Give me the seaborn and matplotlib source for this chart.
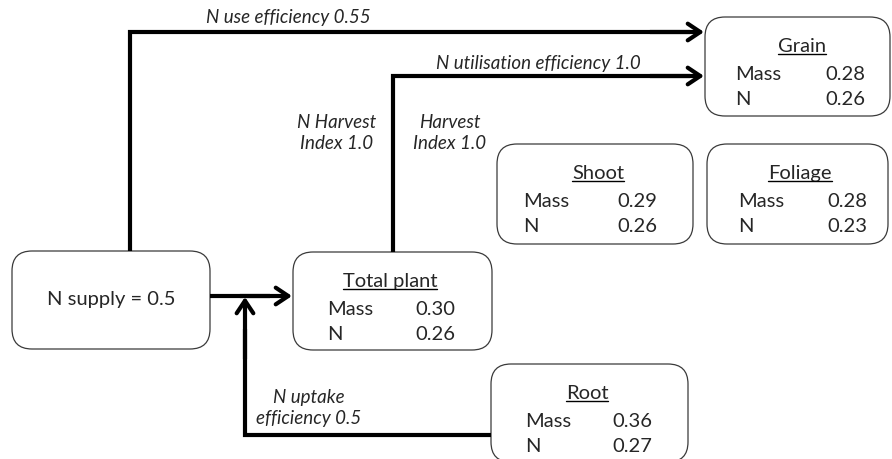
import matplotlib
matplotlib.use("Agg")
import matplotlib.pyplot as plt
import seaborn as sns
from matplotlib.patches import FancyBboxPatch

# -----------------------------
# Data
# -----------------------------
compartments = ["Grain", "Shoot", "Foliage", "Total plant", "Root"]
mass_values = [0.28, 0.29, 0.28, 0.30, 0.36]
n_values = [0.26, 0.26, 0.23, 0.26, 0.27]
row_labels = ["Mass", "N"]

n_supply = 0.5
n_use_eff = 0.55
n_util_eff = 1.0
n_harvest_index = 1.0
harvest_index = 1.0
n_uptake_eff = 0.5

# -----------------------------
# Layout (pixel space, y down)
# left, top, right, bottom, title_x, label_x, value_x
# -----------------------------
box_layout = {
    "Grain": (705, 18, 890, 117, 802, 735, 865),
    "Shoot": (497, 145, 693, 245, 598, 523, 657),
    "Foliage": (707, 145, 888, 245, 800, 738, 867),
    "Total plant": (293, 253, 492, 351, 390, 327, 455),
    "Root": (491, 365, 688, 463, 587, 525, 652),
}
supply_box = (12, 252, 210, 350)

W, H = 892, 460
sns.set_theme(style="white")
plt.rcParams["font.family"] = ["Lato", "DejaVu Sans"]

fig = plt.figure(figsize=(W / 100, H / 100), dpi=100)
ax = fig.add_axes([0, 0, 1, 1])
ax.set_xlim(0, W)
ax.set_ylim(H, 0)
ax.axis("off")

BOX_FS = 14.5
LAB_FS = 13.5
LW = 3.0
EDGE = "#3a3a3a"


def rounded_box(l, t, r, b):
    ax.add_patch(FancyBboxPatch((l, t), r - l, b - t,
                                boxstyle="round,pad=0,rounding_size=20",
                                fc="white", ec=EDGE, lw=0.9, zorder=2))


def arrow(x0, y0, x1, y1):
    ax.annotate("", xy=(x1, y1), xytext=(x0, y0),
                arrowprops=dict(arrowstyle="->,head_length=0.45,head_width=0.3",
                                lw=LW, color="black", mutation_scale=20,
                                shrinkA=0, shrinkB=0), zorder=3)


def path(xs, ys):
    ax.plot(xs, ys, color="black", lw=LW, solid_joinstyle="miter",
            solid_capstyle="butt", zorder=3)


# -----------------------------
# Flows
# -----------------------------
path([130, 130, 690], [252, 33, 33])
arrow(650, 33, 704, 33)
path([393, 393, 690], [253, 77, 77])
arrow(650, 77, 704, 77)
path([210, 270], [297, 297])
arrow(240, 297, 292, 297)
path([491, 245, 245], [436, 436, 330])
arrow(245, 360, 245, 298)

# -----------------------------
# Boxes
# -----------------------------
rounded_box(*supply_box)
ax.text((supply_box[0] + supply_box[2]) / 2, 300, f"N supply = {n_supply}",
        ha="center", va="center", fontsize=BOX_FS, zorder=4)

titles = []
for name, m, n in zip(compartments, mass_values, n_values):
    l, t, r, b, tx, lx, vx = box_layout[name]
    rounded_box(l, t, r, b)
    titles.append(ax.text(tx, t + 34, name, ha="center", va="baseline",
                          fontsize=BOX_FS, zorder=4))
    for i, (lab, val) in enumerate(zip(row_labels, [m, n])):
        yy = t + 62 + 25 * i
        ax.text(lx, yy, lab, ha="left", va="baseline", fontsize=BOX_FS, zorder=4)
        ax.text(vx, yy, f"{val:.2f}", ha="right", va="baseline",
                fontsize=BOX_FS, zorder=4)

# underline titles
fig.canvas.draw()
inv = ax.transData.inverted()
for txt in titles:
    bb = txt.get_window_extent()
    x0, _ = inv.transform((bb.x0, bb.y0))
    x1, _ = inv.transform((bb.x1, bb.y0))
    yb = txt.get_position()[1] + 3
    ax.plot([x0, x1], [yb, yb], color="black", lw=1.0, zorder=4)

# -----------------------------
# Flow labels
# -----------------------------
ax.text(288, 17, f"N use efficiency {n_use_eff}", ha="center", va="center",
        fontsize=LAB_FS, style="italic")
ax.text(538, 64, f"N utilisation efficiency {n_util_eff}", ha="center",
        va="center", fontsize=LAB_FS, style="italic")
ax.text(337, 133, f"N Harvest\nIndex {n_harvest_index}", ha="center",
        va="center", fontsize=LAB_FS, style="italic", linespacing=1.35)
ax.text(450, 133, f"Harvest\nIndex {harvest_index}", ha="center",
        va="center", fontsize=LAB_FS, style="italic", linespacing=1.35)
ax.text(309, 408, f"N uptake\nefficiency {n_uptake_eff}", ha="center",
        va="center", fontsize=LAB_FS, style="italic", linespacing=1.35)

fig.savefig("out.png", dpi=100)
